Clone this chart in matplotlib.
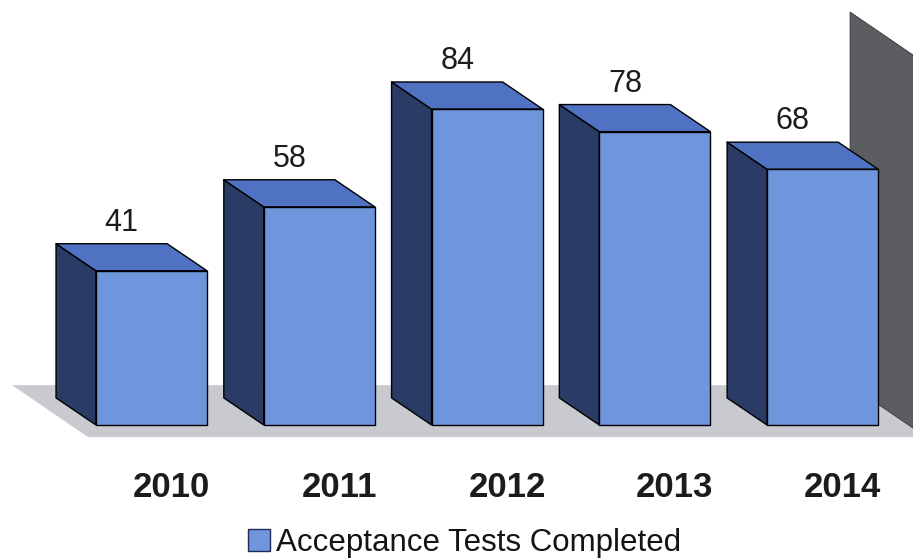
import matplotlib.pyplot as plt
from matplotlib.patches import Polygon, Patch

years = ["2010", "2011", "2012", "2013", "2014"]
tests = [41, 58, 84, 78, 68]
series_name = "Acceptance Tests Completed"

FRONT = "#6f96dc"
TOP = "#4f73c2"
SIDE = "#2a3b66"
WALL = "#5c5d61"
FLOOR = "#c9cacf"

# fake 3d: depth offset in data units (x: one slot per bar, y: test count)
W = 0.662
DX, DY = -0.238, 7.2


def main():
    plt.rcParams["font.family"] = ["Liberation Sans", "DejaVu Sans"]
    fig = plt.figure(figsize=(9.13, 5.6), dpi=100)
    ax = fig.add_axes([0, 0, 1, 1])
    ax.set_xlim(-0.903, 4.539)
    ax.set_ylim(-35.9, 113.0)
    ax.axis("off")

    # floor
    fdx, fdy = 0.453, -13.8
    back_l, back_r = -0.832, 4.164
    fy = 10.6
    ax.add_patch(Polygon([(back_l, fy), (back_r, fy), (back_r + fdx, fy + fdy),
                          (back_l + fdx, fy + fdy)], closed=True,
                         facecolor=FLOOR, edgecolor="none", zorder=1))
    # side wall on the right
    ax.add_patch(Polygon([(back_r, fy), (back_r, 109.8), (back_r + fdx, 109.8 + fdy),
                          (back_r + fdx, fy + fdy)], closed=True,
                         facecolor=WALL, edgecolor="#333333", lw=0.6, zorder=2))

    for i, (yr, v) in enumerate(zip(years, tests)):
        x0 = i - W / 2
        x1 = i + W / 2
        kw = dict(closed=True, edgecolor="black", lw=1.0, joinstyle="round", zorder=3)
        ax.add_patch(Polygon([(x0, 0), (x0, v), (x0 + DX, v + DY), (x0 + DX, DY)],
                             facecolor=SIDE, **kw))
        ax.add_patch(Polygon([(x0, v), (x1, v), (x1 + DX, v + DY), (x0 + DX, v + DY)],
                             facecolor=TOP, **kw))
        ax.add_patch(Polygon([(x0, 0), (x1, 0), (x1, v), (x0, v)],
                             facecolor=FRONT, **kw))
        ax.text(i + DX + 0.06, v + DY + 1.6, str(v), ha="center", va="bottom",
                fontsize=22, color="#1c1c1c", zorder=4)
        ax.text(i + 0.12, -16.5, yr, ha="center", va="center",
                fontsize=25, fontweight="bold", color="#1c1c1c", zorder=4)

    handle = Patch(facecolor=FRONT, edgecolor="#1f2d55", lw=1.0)
    fig.legend(handles=[handle], labels=[series_name], loc="center",
               bbox_to_anchor=(0.509, 0.03), frameon=False, fontsize=22.5,
               handlelength=0.7, handleheight=0.7, handletextpad=0.2,
               borderpad=0, labelcolor="#141414")

    fig.savefig("out.png", dpi=100)
    plt.close(fig)


if __name__ == "__main__":
    main()
